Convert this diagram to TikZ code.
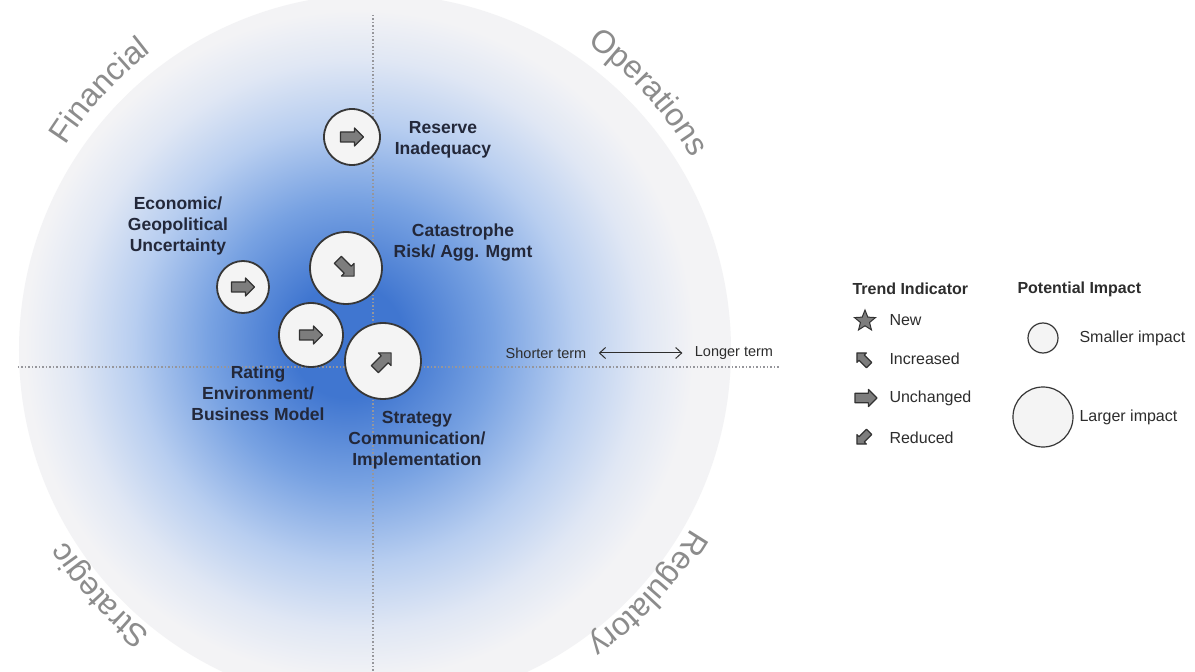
\documentclass[tikz,border=0pt]{standalone}
\usepackage{fontspec}
\setmainfont{Liberation Sans}
\usetikzlibrary{arrows.meta,shapes.geometric,decorations.text}

\definecolor{glowcore}{RGB}{64,118,208}
\definecolor{glowmid}{RGB}{120,162,226}
\definecolor{glowsoft}{RGB}{184,206,240}
\definecolor{glowpale}{RGB}{224,231,244}
\definecolor{rimgrey}{RGB}{243,243,245}
\definecolor{axisgrey}{RGB}{150,150,155}
\definecolor{bubblefill}{RGB}{244,244,244}
\definecolor{bubbleline}{RGB}{55,55,55}
\definecolor{iconfill}{RGB}{125,125,125}
\definecolor{icondark}{RGB}{50,50,50}
\definecolor{labelink}{RGB}{35,40,58}
\definecolor{legendink}{RGB}{45,45,45}
\definecolor{catgrey}{RGB}{140,140,140}

% blue glow, a little up and left of the disk centre (disk rim = 25bp)
\pgfdeclareradialshading{riskglow}{\pgfpoint{-2.1bp}{0.7bp}}{%
  color(0bp)=(glowcore); color(4bp)=(glowcore); color(10bp)=(glowmid);
  color(15.5bp)=(glowsoft); color(20bp)=(glowpale); color(23.5bp)=(rimgrey);
  color(50bp)=(rimgrey)}

\newcommand\catfont{\fontsize{32}{36}\selectfont\color{catgrey}}

\begin{document}
\begin{tikzpicture}[x=1pt,y=1pt,
  bubble/.style={circle,draw=bubbleline,line width=1.8pt,fill=bubblefill,inner sep=0pt},
  risklabel/.style={align=center,font=\fontsize{17.5}{21}\selectfont\bfseries,text=labelink},
  axisline/.style={draw=axisgrey,line width=1.3pt,dash pattern=on 1.3pt off 2.2pt},
  arrowicon/.style={fill=iconfill,draw=icondark,line width=1.2pt,line join=round},
  trendarrow/.pic={\path[arrowicon] (-11.5,-5) -- (2.5,-5) -- (2.5,-9) -- (11.5,0)
    -- (2.5,9) -- (2.5,5) -- (-11.5,5) -- cycle;},
  legendhead/.style={anchor=west,font=\fontsize{16}{18}\selectfont\bfseries,text=legendink},
  legenditem/.style={anchor=west,font=\fontsize{16}{18}\selectfont,text=legendink},
  termarrow/.style={{Straight Barb[length=6pt,width=11pt]}-{Straight Barb[length=6pt,width=11pt]},
    line width=1pt,legendink,shorten <=9pt,shorten >=9pt}]
  \useasboundingbox (-375,-322) rectangle (820,350);
  \fill[white] (-375,-322) rectangle (820,350);

  % disk with the glow
  \shade[shading=riskglow] (0,0) circle (356);

  % axes
  \draw[axisline] (-2,335) -- (-2,-322);
  \draw[axisline] (-357,-17) -- (405,-17);

  % category names round the rim
  \path[shift={(0,7)},decorate,decoration={text along path,text align=center,
    text={|\catfont|Financial}}] (157.5:367) arc[start angle=157.5,end angle=117.5,radius=367];
  \path[shift={(0,7)},decorate,decoration={text along path,text align=center,
    text={|\catfont|Operations}}] (62.5:367) arc[start angle=62.5,end angle=22.5,radius=367];
  \path[shift={(0,7)},decorate,decoration={text along path,text align=center,
    text={|\catfont|Strategic}}] (242.5:367) arc[start angle=242.5,end angle=202.5,radius=367];
  \path[shift={(0,7)},decorate,decoration={text along path,text align=center,
    text={|\catfont|Regulatory}}] (-22.5:367) arc[start angle=-22.5,end angle=-62.5,radius=367];

  % risk bubbles
  \node[bubble,minimum size=56pt] (reserve) at (-23,213) {};
  \node[bubble,minimum size=72pt] (catastrophe) at (-29,82) {};
  \node[bubble,minimum size=52pt] (economic) at (-132,63) {};
  \node[bubble,minimum size=64pt] (rating) at (-64,15) {};
  \node[bubble,minimum size=76pt] (strategy) at (8,-11) {};
  \pic at (reserve) {trendarrow};
  \pic[rotate=-45] at (catastrophe) {trendarrow};
  \pic at (economic) {trendarrow};
  \pic at (rating) {trendarrow};
  \pic[rotate=45] at (strategy) {trendarrow};

  \node[risklabel] (reservetxt) at (68,210) {Reserve\\Inadequacy};
  \node[risklabel] (catastrophetxt) at (88,107) {Catastrophe\\Risk/ Agg. Mgmt};
  \node[risklabel] (economictxt) at (-197,124) {Economic/\\Geopolitical\\Uncertainty};
  \node[risklabel] (ratingtxt) at (-117,-43) {Rating\\Environment/\\Business Model};
  \node[risklabel] (strategytxt) at (42,-90) {Strategy\\Communication/\\Implementation};

  % time scale
  \node[legenditem,anchor=center,font=\fontsize{14.5}{16}\selectfont] (shorter) at (171,-3) {Shorter term};
  \node[legenditem,anchor=center,font=\fontsize{14.5}{16}\selectfont] (longer) at (359,-3) {Longer term};
  \draw[termarrow] (shorter) -- (longer);

  % legend: trend
  \node[legendhead] (trendhead) at (474,61) {Trend Indicator};
  \node[star,star points=5,star point ratio=2.3,fill=iconfill,draw=icondark,
    line width=1pt,minimum size=22pt,inner sep=0pt] (newicon) at (490,29) {};
  \node[legenditem] (newtxt) at (511,30) {New};
  \pic[rotate=135,scale=0.75] at (488,-9) {trendarrow};
  \node[legenditem] (uptxt) at (511,-9) {Increased};
  \pic[scale=0.95] at (491,-48) {trendarrow};
  \node[legenditem] (flattxt) at (511,-48) {Unchanged};
  \pic[rotate=-135,scale=0.75] at (488,-88) {trendarrow};
  \node[legenditem] (downtxt) at (511,-88) {Reduced};

  % legend: impact
  \node[legendhead] (impacthead) at (639,61) {Potential Impact};
  \node[bubble,line width=1.2pt,fill=bubblefill,minimum size=30pt] (smallimpact) at (668,12) {};
  \node[legenditem] (smalltxt) at (701,12) {Smaller impact};
  \node[bubble,line width=1.2pt,fill=bubblefill,minimum size=60pt] (largeimpact) at (668,-67) {};
  \node[legenditem] (largetxt) at (701,-67) {Larger impact};
\end{tikzpicture}
\end{document}
